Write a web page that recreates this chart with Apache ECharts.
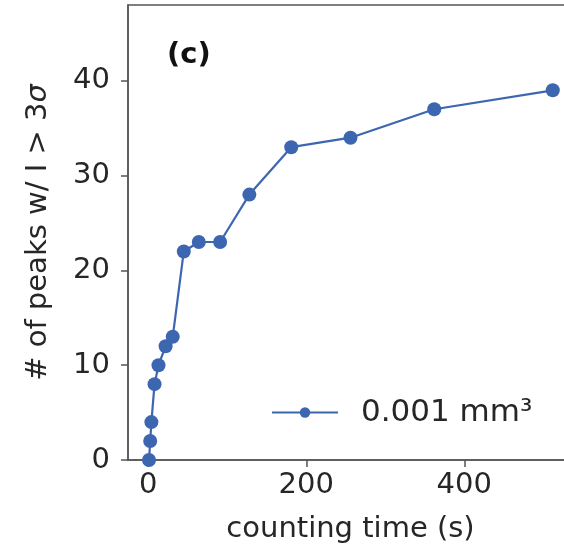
<!DOCTYPE html>
<html>
<head>
<meta charset="utf-8">
<script src="https://cdn.jsdelivr.net/npm/echarts@6/dist/echarts.min.js"></script>
<style>html,body{margin:0;padding:0;background:#fff;overflow:hidden;}#c{width:573px;height:555px;}</style>
</head>
<body>
<div id="c"></div>
<script>
const countingTime = [1, 2.5, 4, 8, 13, 22, 31, 45, 64, 91, 128, 181, 256, 362, 512];
const peaks = [0, 2, 4, 8, 10, 12, 13, 22, 23, 23, 28, 33, 34, 37, 39];
const xTicks = [0, 200, 400];
const yTicks = [0, 10, 20, 30, 40];
const seriesName = '0.001 mm³';
const panelLabel = '(c)';

const FONT = 'DejaVu Sans';
const TXT = '#262626';
const AX = '#555555';
const BLUE = '#3d66b0';

const chart = echarts.init(document.getElementById('c'), null, {renderer: 'canvas'});
chart.setOption({
  animation: false,
  backgroundColor: '#fff',
  grid: {left: 128, top: 5, right: 0, bottom: 95, show: true, borderColor: AX, borderWidth: 1.5, containLabel: false},
  xAxis: {
    type: 'value', min: -25.6, max: 537.6,
    name: 'counting time (s)', nameLocation: 'middle', nameGap: 55,
    nameTextStyle: {fontFamily: FONT, fontSize: 29, color: TXT},
    axisLine: {show: true, onZero: false, lineStyle: {color: AX, width: 1.5}},
    axisTick: {show: true, inside: false, length: 7, lineStyle: {color: AX, width: 1.5}, customValues: xTicks},
    axisLabel: {fontFamily: FONT, fontSize: 29, color: TXT, margin: 11, customValues: xTicks},
    splitLine: {show: false}
  },
  yAxis: {
    type: 'value', min: 0, max: 48,
    name: '# of peaks w/ I > 3{i|σ}', nameLocation: 'middle', nameGap: 75,
    nameTextStyle: {fontFamily: FONT, fontSize: 29, color: TXT, rich: {i: {fontFamily: FONT, fontSize: 29, fontStyle: 'italic', color: TXT}}},
    axisLine: {show: true, onZero: false, lineStyle: {color: AX, width: 1.5}},
    axisTick: {show: true, inside: false, length: 7, lineStyle: {color: AX, width: 1.5}, customValues: yTicks},
    axisLabel: {fontFamily: FONT, fontSize: 29, color: TXT, margin: 18, customValues: yTicks},
    splitLine: {show: false}
  },
  legend: {
    show: true, left: 266, top: 392, itemWidth: 66, itemHeight: 13,
    data: [{name: seriesName}],
    textStyle: {fontFamily: FONT, fontSize: 31, color: TXT, padding: [0, 0, 0, 18]}
  },
  graphic: [{
    type: 'text', left: 167, top: 41,
    style: {text: panelLabel, font: 'bold 29px "DejaVu Sans"', fill: '#111'}
  }],
  series: [{
    name: seriesName, type: 'line',
    data: countingTime.map((t, i) => [t, peaks[i]]),
    symbol: 'circle', symbolSize: 14, clip: true,
    lineStyle: {color: BLUE, width: 2.2},
    itemStyle: {color: BLUE}
  }]
});
</script>
</body>
</html>
